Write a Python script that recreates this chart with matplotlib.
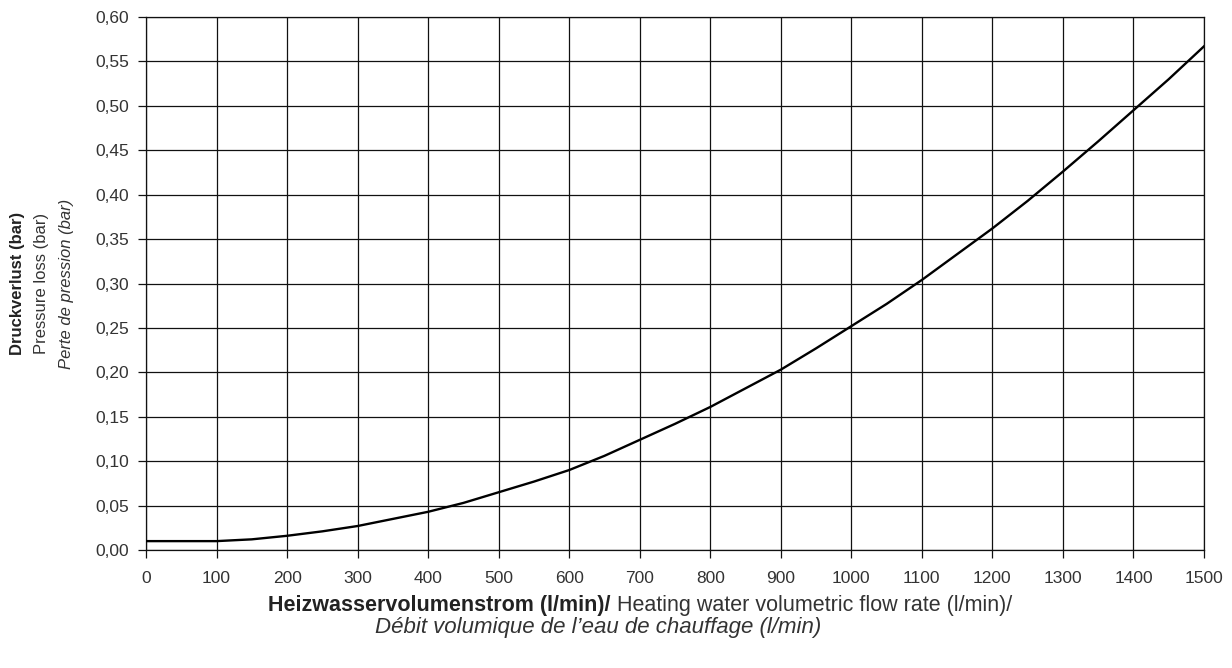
import matplotlib
matplotlib.use("Agg")
import matplotlib.pyplot as plt
from matplotlib.ticker import FuncFormatter

plt.rcParams['font.family'] = ['Liberation Sans Narrow', 'Liberation Sans', 'DejaVu Sans']

# flow rate (l/min) and pressure loss (bar)
flow = [0, 100, 150, 200, 250, 300, 350, 400, 450, 500, 550, 600, 650, 700, 750,
        800, 850, 900, 950, 1000, 1050, 1100, 1150, 1200, 1250, 1300, 1350, 1400,
        1450, 1500]
loss = [0.010, 0.010, 0.012, 0.016, 0.021, 0.027, 0.035, 0.043, 0.053, 0.065,
        0.077, 0.090, 0.106, 0.124, 0.142, 0.161, 0.182, 0.203, 0.227, 0.252,
        0.277, 0.304, 0.333, 0.362, 0.393, 0.426, 0.460, 0.495, 0.530, 0.567]

xticks = list(range(0, 1501, 100))
yticks = [i * 0.05 for i in range(13)]

fig = plt.figure(figsize=(12.32, 6.68), dpi=100)
ax = fig.add_axes([146 / 1232, 1 - 550 / 668, (1204 - 146) / 1232, (550 - 17) / 668])

ax.plot(flow, loss, color='black', lw=1.7, zorder=3)

ax.set_xlim(0, 1500)
ax.set_ylim(0, 0.60)
ax.set_xticks(xticks)
ax.set_yticks(yticks)
ax.yaxis.set_major_formatter(FuncFormatter(lambda v, p: f"{v:.2f}".replace('.', ',')))
ax.grid(True, color='#111111', lw=0.9)
for s in ax.spines.values():
    s.set_color('#111111')
    s.set_linewidth(0.9)
ax.tick_params(length=6, width=0.9, color='#111111', labelsize=12.5, labelcolor='#333333')
ax.tick_params(axis='x', pad=9)
ax.tick_params(axis='y', pad=6)

# y axis label, three languages
cy = 1 - 283.5 / 668
fig.text(18 / 1232, cy, 'Druckverlust (bar)', rotation=90, ha='center', va='center',
         fontsize=12, fontweight='bold', color='#222222')
fig.text(42 / 1232, cy, 'Pressure loss (bar)', rotation=90, ha='center', va='center',
         fontsize=12, color='#333333')
fig.text(66 / 1232, cy, 'Perte de pression (bar)', rotation=90, ha='center', va='center',
         fontsize=12, style='italic', color='#333333')

# x axis label, first line mixes bold and regular
y1 = 1 - 605 / 668
t1 = fig.text(0, y1, 'Heizwasservolumenstrom (l/min)/', ha='left', va='center',
              fontsize=15.5, fontweight='bold', color='#222222')
t2 = fig.text(0, y1, ' Heating water volumetric flow rate (l/min)/', ha='left', va='center',
              fontsize=15.5, color='#333333')
fig.canvas.draw()
r = fig.canvas.get_renderer()
w1 = t1.get_window_extent(r).width
w2 = t2.get_window_extent(r).width
left = 640 - (w1 + w2) / 2
t1.set_x(left / 1232)
t2.set_x((left + w1) / 1232)
fig.text(598 / 1232, 1 - 628 / 668, 'Débit volumique de l’eau de chauffage (l/min)',
         ha='center', va='center', fontsize=16, style='italic', color='#333333')

fig.savefig('out.png', dpi=100)
